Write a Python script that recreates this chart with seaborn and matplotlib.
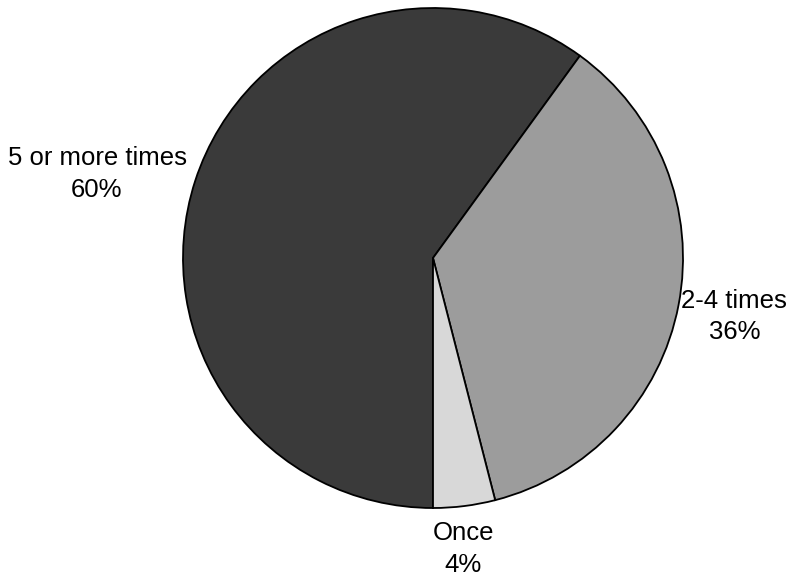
import numpy as np
import matplotlib
matplotlib.use("Agg")
import matplotlib.pyplot as plt
import seaborn as sns

categories = ["5 or more times", "2-4 times", "Once"]
values = [60, 36, 4]
colors = ["#3a3a3a", "#9c9c9c", "#d8d8d8"]
label_pos = [(-1.344, 0.335), (1.205, -0.234), (0.12, -1.164)]

sns.set_style("white")
plt.rcParams['font.family'] = ['Liberation Sans', 'DejaVu Sans']

fig = plt.figure(figsize=(7.89, 5.77), dpi=100)
cx, cy, r = 433, 258, 250
ax = fig.add_axes([(cx - r) / 789, (577 - cy - r) / 577, 2 * r / 789, 2 * r / 577])
wedges, texts = ax.pie(values, colors=colors, startangle=-90, counterclock=False,
                       wedgeprops=dict(edgecolor="black", linewidth=1.3),
                       labels=[f"{c}\n{v}%" for c, v in zip(categories, values)],
                       textprops=dict(fontsize=18.5, linespacing=1.42, color="black"))
for t, p in zip(texts, label_pos):
    t.set_position(p)
    t.set_ha("center")
    t.set_va("center")
ax.set_xlim(-1, 1)
ax.set_ylim(-1, 1)
ax.set_aspect("equal")
ax.axis("off")
fig.savefig("out.png", dpi=100)
